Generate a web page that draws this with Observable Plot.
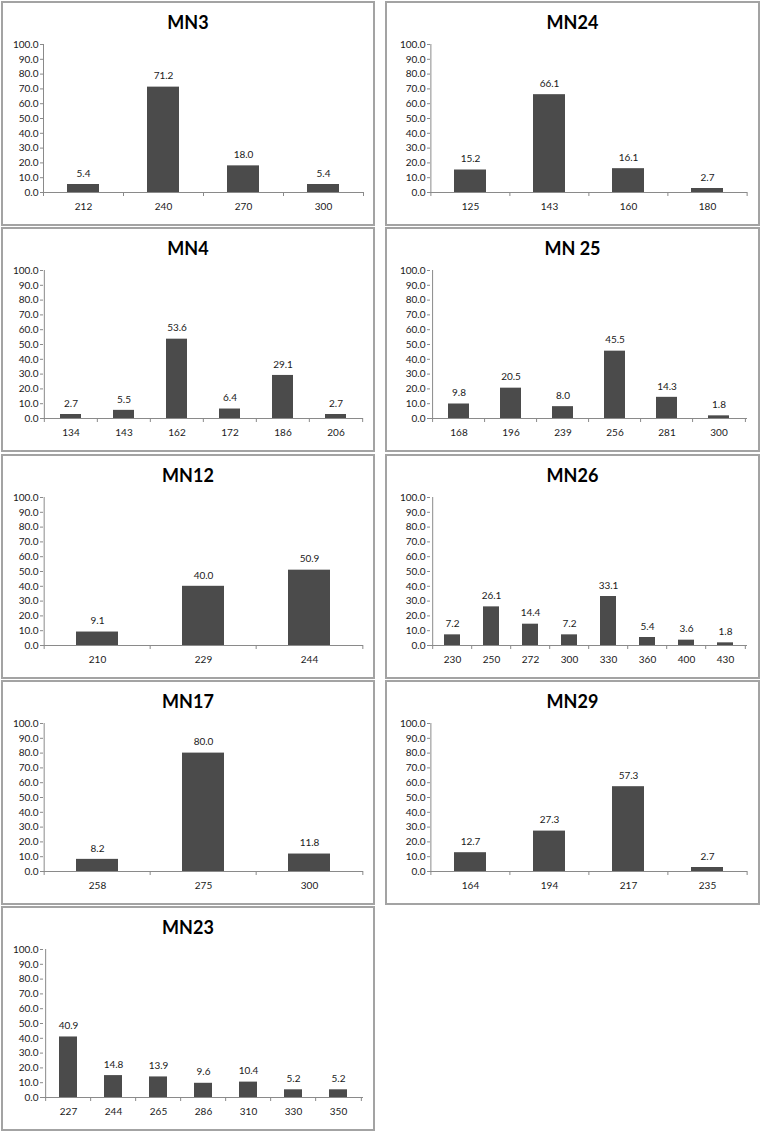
<!DOCTYPE html>
<html>
<head>
<meta charset="utf-8">
<script src="https://cdn.jsdelivr.net/npm/d3@7"></script>
<script src="https://cdn.jsdelivr.net/npm/@observablehq/plot@0.6"></script>
<style>
  html, body { margin: 0; padding: 0; background: #fff; }
  #root { position: relative; width: 760px; height: 1131px; font-family: Lato, "Open Sans", sans-serif; }
  .panel { position: absolute; box-sizing: border-box; height: 225px; border: 2px solid #a3a3a3; background: #fff; }
  .title { height: 35px; line-height: 38px; text-align: center; font-weight: bold; font-size: 18px; color: #000; }
  .panel svg { display: block; }
</style>
</head>
<body>
<div id="root"></div>
<script>
// ---- data ----
const titles = ["MN3", "MN24", "MN4", "MN 25", "MN12", "MN26", "MN17", "MN29", "MN23"];

const mn3Cats = ["212", "240", "270", "300"];
const mn3Vals = [5.4, 71.2, 18.0, 5.4];

const mn24Cats = ["125", "143", "160", "180"];
const mn24Vals = [15.2, 66.1, 16.1, 2.7];

const mn4Cats = ["134", "143", "162", "172", "186", "206"];
const mn4Vals = [2.7, 5.5, 53.6, 6.4, 29.1, 2.7];

const mn25Cats = ["168", "196", "239", "256", "281", "300"];
const mn25Vals = [9.8, 20.5, 8.0, 45.5, 14.3, 1.8];

const mn12Cats = ["210", "229", "244"];
const mn12Vals = [9.1, 40.0, 50.9];

const mn26Cats = ["230", "250", "272", "300", "330", "360", "400", "430"];
const mn26Vals = [7.2, 26.1, 14.4, 7.2, 33.1, 5.4, 3.6, 1.8];

const mn17Cats = ["258", "275", "300"];
const mn17Vals = [8.2, 80.0, 11.8];

const mn29Cats = ["164", "194", "217", "235"];
const mn29Vals = [12.7, 27.3, 57.3, 2.7];

const mn23Cats = ["227", "244", "265", "286", "310", "330", "350"];
const mn23Vals = [40.9, 14.8, 13.9, 9.6, 10.4, 5.2, 5.2];

const yTicks = [0, 10, 20, 30, 40, 50, 60, 70, 80, 90, 100];

const series = [
  [mn3Cats, mn3Vals], [mn24Cats, mn24Vals],
  [mn4Cats, mn4Vals], [mn25Cats, mn25Vals],
  [mn12Cats, mn12Vals], [mn26Cats, mn26Vals],
  [mn17Cats, mn17Vals], [mn29Cats, mn29Vals],
  [mn23Cats, mn23Vals]
];

// ---- layout ----
const colLeft = [1, 385];
const colWidth = [374, 375];
const rowTop = [1, 227, 454, 680, 906];
const marginLeftCol = [40, 43];
const marginRightCol = [10, 11];

const root = document.getElementById("root");
const axisColor = "#8a8a8a";
const textColor = "#1a1a1a";
const barColor = "#4b4b4b";

series.forEach(([cats, vals], i) => {
  const col = i % 2, row = Math.floor(i / 2);
  const panel = document.createElement("div");
  panel.className = "panel";
  panel.style.left = colLeft[col] + "px";
  panel.style.top = rowTop[row] + "px";
  panel.style.width = colWidth[col] + "px";
  const t = document.createElement("div");
  t.className = "title";
  t.textContent = titles[i];
  panel.appendChild(t);

  const width = colWidth[col] - 4;
  const height = 225 - 4 - 35;
  const mL = marginLeftCol[col], mR = marginRightCol[col];
  const mT = 6, mB = 32;
  const step = (width - mL - mR) / cats.length;
  const data = cats.map((c, k) => ({cat: c, val: vals[k]}));
  const tickLen = 4 * 100 / (height - mT - mB); // 4px expressed in y units

  const chart = Plot.plot({
    width, height,
    marginLeft: mL, marginRight: mR, marginTop: mT, marginBottom: mB,
    style: {fontFamily: "Lato, 'Open Sans', sans-serif", fontSize: "10px", color: textColor, background: "transparent"},
    x: {domain: cats, paddingInner: 0.6, paddingOuter: 0.3, label: null},
    y: {domain: [0, 100], label: null},
    marks: [
      Plot.barY(data, {x: "cat", y: "val", fill: barColor}),
      Plot.text(data, {x: "cat", y: "val", text: d => d.val.toFixed(1), dy: -11, fill: textColor, fontSize: 10}),
      // x axis line
      Plot.ruleY([0], {stroke: axisColor}),
      // y axis line
      Plot.ruleX([cats[0]], {y1: 0, y2: 100, dx: -step / 2, stroke: axisColor}),
      // category boundary ticks
      Plot.ruleX(cats, {y1: 0, y2: -tickLen, dx: -step / 2, stroke: axisColor}),
      Plot.ruleX([cats[cats.length - 1]], {y1: 0, y2: -tickLen, dx: step / 2, stroke: axisColor}),
      Plot.axisY({ticks: yTicks, tickFormat: d => d.toFixed(1), tickSize: 3, tickPadding: 2, stroke: axisColor, fill: textColor, label: null}),
      Plot.axisX({tickSize: 0, tickPadding: 10, fill: textColor, label: null})
    ]
  });
  panel.appendChild(chart);
  root.appendChild(panel);
});
</script>
</body>
</html>
